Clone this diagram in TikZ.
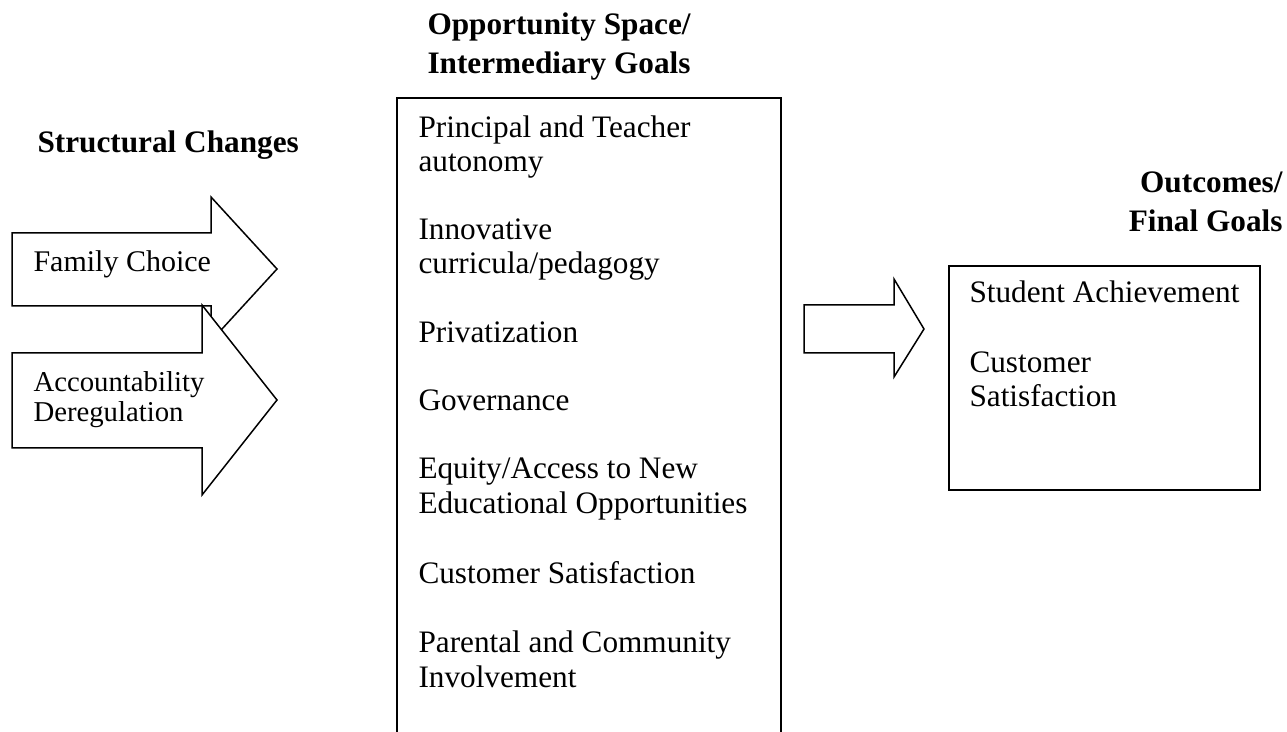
\documentclass[tikz,border=0pt]{standalone}
\usepackage{fontspec}
\setmainfont{Liberation Serif}

\begin{document}
\begin{tikzpicture}[
    x=0.4pt,
    y=-0.4pt,
    head/.style={
        font=\bfseries\fontsize{12.5}{15.6}\selectfont,
        inner sep=0pt,
        align=left
    },
    item/.style={
        font=\fontsize{12.5}{13.8}\selectfont,
        inner sep=0pt,
        align=left,
        anchor=base west
    },
    frame/.style={
        draw,
        line width=0.9pt
    },
    blockarrow/.style={
        draw,
        fill=white,
        line width=0.6pt,
        line join=miter
    }
]
    \useasboundingbox (0,0) rectangle (1287,732);
    \clip (0,0) rectangle (1287,732);

    % --- Headers (placed at the baseline of their last line) ---
    \node[head, anchor=base west] (hstruct) at (37,153) {Structural Changes};
    \node[head, anchor=base west] (hopp) at (427,74) {Opportunity Space/\\Intermediary Goals};
    \node[head, anchor=base east, align=right] (hout) at (1283,232) {Outcomes/\\Final Goals};

    % --- Structural changes ---
    \draw[blockarrow] (12,233) -- (211,233) -- (211,197) -- (277,269)
        -- (211,341) -- (211,306) -- (12,306) -- cycle;
    \node[item, font=\fontsize{12}{13.8}\selectfont] (family) at (33,272) {Family Choice};

    \draw[blockarrow] (12,353) -- (202,353) -- (202,305) -- (277,400)
        -- (202,495) -- (202,448) -- (12,448) -- cycle;
    \node[item, font=\fontsize{11.5}{12}\selectfont] (account) at (33,422) {Accountability\\Deregulation};

    % --- Opportunity space ---
    \draw[frame] (397,98) rectangle (781,760);
    \node[item] (principal) at (418,172) {Principal and Teacher\\autonomy};
    \node[item] (innov) at (418,274) {Innovative\\curricula/pedagogy};
    \node[item] (privat) at (418,343) {Privatization};
    \node[item] (govern) at (418,411) {Governance};
    \node[item] (equity) at (418,513) {Equity/Access to New\\Educational Opportunities};
    \node[item] (custa) at (418,583) {Customer Satisfaction};
    \node[item] (parent) at (418,687) {Parental and Community\\Involvement};

    % --- Outcomes ---
    \draw[blockarrow] (804,305) -- (894,305) -- (894,279) -- (924,329)
        -- (894,377) -- (894,353) -- (804,353) -- cycle;

    \draw[frame] (949,266) rectangle (1260,490);
    \node[item] (achieve) at (969,303) {Student Achievement};
    \node[item] (custb) at (969,407) {Customer\\Satisfaction};
\end{tikzpicture}
\end{document}
